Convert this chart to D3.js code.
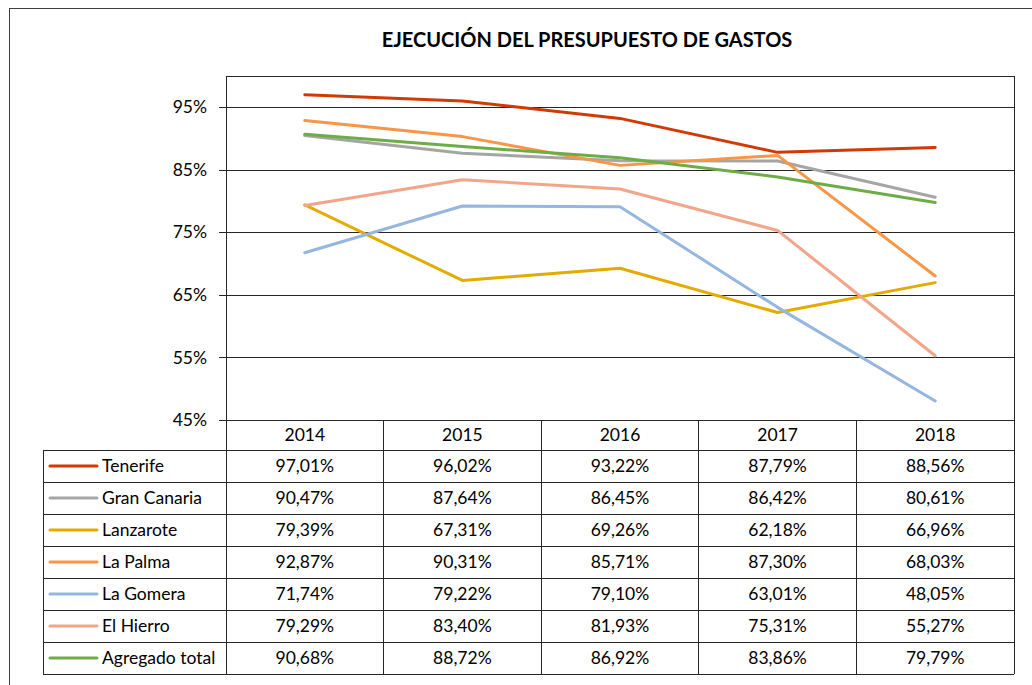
<!DOCTYPE html>
<html>
<head>
<meta charset="utf-8">
<script src="https://cdn.jsdelivr.net/npm/d3@7"></script>
<style>
  body { margin: 0; background: #fff; }
  svg { display: block; font-family: Lato, "Open Sans", sans-serif; }
  .title { font-size: 20px; font-weight: bold; text-anchor: middle; fill: #000; }
  .cell { font-size: 17.5px; fill: #000; }
</style>
</head>
<body>
<div id="chart"></div>
<script>
  var years = ['2014', '2015', '2016', '2017', '2018'];
  var series = ['Tenerife', 'Gran Canaria', 'Lanzarote', 'La Palma', 'La Gomera', 'El Hierro', 'Agregado total'];
  var colors = ['#CF3A06', '#A5A5A5', '#E3AA00', '#F79646', '#95B6DE', '#F3A58A', '#6DAD45'];
  var tenerife = [97.01, 96.02, 93.22, 87.79, 88.56];
  var granCanaria = [90.47, 87.64, 86.45, 86.42, 80.61];
  var lanzarote = [79.39, 67.31, 69.26, 62.18, 66.96];
  var laPalma = [92.87, 90.31, 85.71, 87.30, 68.03];
  var laGomera = [71.74, 79.22, 79.10, 63.01, 48.05];
  var elHierro = [79.29, 83.40, 81.93, 75.31, 55.27];
  var agregado = [90.68, 88.72, 86.92, 83.86, 79.79];
  var yTicks = [45, 55, 65, 75, 85, 95];

  var values = [tenerife, granCanaria, lanzarote, laPalma, laGomera, elHierro, agregado];

  var settings = {
    width: 1032, height: 685,
    left: 226, right: 1014, top: 76, bottom: 420,
    tableLeft: 43, headerBottom: 450, tableBottom: 674
  };

  var chart = d3.select('#chart')
    .append('svg')
    .attr('width', settings.width)
    .attr('height', settings.height);

  // outer frame of the chart object
  chart.append('rect')
    .attr('x', 9.5).attr('y', 8.5)
    .attr('width', 1040).attr('height', 700)
    .attr('fill', 'none').attr('stroke', '#404040');

  chart.append('text')
    .classed('title', true)
    .attr('x', 587).attr('y', 47)
    .text('EJECUCIÓN DEL PRESUPUESTO DE GASTOS');

  var x = d3.scaleBand().domain(years).range([settings.left, settings.right]);
  var y = d3.scaleLinear().domain([45, 100]).range([settings.bottom, settings.top]);
  var rowY = d3.scaleBand().domain(series).range([settings.headerBottom, settings.tableBottom]);

  // gridlines + left ticks
  var yAxis = d3.axisLeft(y)
    .tickValues(yTicks)
    .tickSize(-(settings.right - settings.left))
    .tickFormat(function (d) { return d + '%'; });

  var ga = chart.append('g')
    .attr('transform', 'translate(' + settings.left + ',0)')
    .call(yAxis);
  ga.select('.domain').remove();
  ga.selectAll('.tick line')
    .attr('stroke', '#262626')
    .attr('x1', -7)
    .attr('shape-rendering', 'crispEdges');
  ga.selectAll('.tick text')
    .attr('x', -19)
    .attr('fill', '#000')
    .style('font-size', '17.5px')
    .style('font-family', 'Lato, sans-serif');

  var lineColor = '#262626';
  function hline(x1, x2, yy) {
    chart.append('line').attr('x1', x1).attr('x2', x2).attr('y1', yy).attr('y2', yy)
      .attr('stroke', lineColor).attr('shape-rendering', 'crispEdges');
  }
  function vline(xx, y1, y2) {
    chart.append('line').attr('x1', xx).attr('x2', xx).attr('y1', y1).attr('y2', y2)
      .attr('stroke', lineColor).attr('shape-rendering', 'crispEdges');
  }

  // plot frame
  hline(settings.left, settings.right, y(100));
  vline(settings.left, settings.top, settings.tableBottom);
  vline(settings.right, settings.top, settings.tableBottom);

  // data table grid
  hline(settings.tableLeft, settings.right, settings.headerBottom);
  series.forEach(function (s) { hline(settings.tableLeft, settings.right, rowY(s) + rowY.bandwidth()); });
  vline(settings.tableLeft, settings.headerBottom, settings.tableBottom);
  years.forEach(function (yr, i) { if (i > 0) vline(x(yr), settings.bottom, settings.tableBottom); });

  // lines
  var line = d3.line()
    .x(function (d, i) { return x(years[i]) + x.bandwidth() / 2; })
    .y(function (d) { return y(d); });

  chart.append('g').selectAll('path')
    .data(values)
    .enter()
    .append('path')
    .attr('d', line)
    .attr('fill', 'none')
    .attr('stroke', function (d, i) { return colors[i]; })
    .attr('stroke-width', 3)
    .attr('stroke-linecap', 'round')
    .attr('stroke-linejoin', 'round');

  // header row
  chart.append('g').selectAll('text')
    .data(years)
    .enter()
    .append('text')
    .classed('cell', true)
    .attr('x', function (d) { return x(d) + x.bandwidth() / 2; })
    .attr('y', (settings.bottom + settings.headerBottom) / 2 + 6)
    .attr('text-anchor', 'middle')
    .text(function (d) { return d; });

  // rows
  var rows = chart.append('g').selectAll('g')
    .data(series)
    .enter()
    .append('g')
    .attr('transform', function (d) { return 'translate(0,' + (rowY(d) + rowY.bandwidth() / 2) + ')'; });

  rows.append('line')
    .attr('x1', 50).attr('x2', 97)
    .attr('stroke', function (d, i) { return colors[i]; })
    .attr('stroke-width', 3)
    .attr('stroke-linecap', 'round');

  rows.append('text')
    .classed('cell', true)
    .attr('x', 102).attr('y', 6)
    .text(function (d) { return d; });

  rows.each(function (s, i) {
    d3.select(this).selectAll('text.val')
      .data(values[i])
      .enter()
      .append('text')
      .classed('cell val', true)
      .attr('x', function (d, j) { return x(years[j]) + x.bandwidth() / 2; })
      .attr('y', 6)
      .attr('text-anchor', 'middle')
      .text(function (d) { return d.toFixed(2).replace('.', ',') + '%'; });
  });
</script>
</body>
</html>
